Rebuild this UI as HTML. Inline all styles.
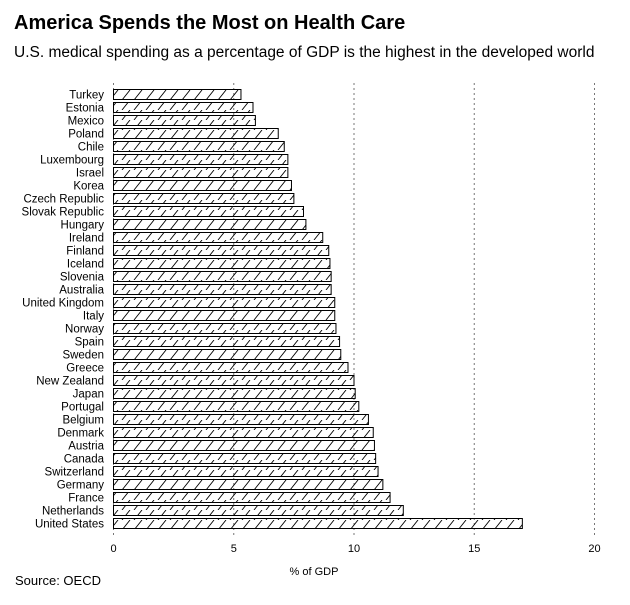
<!DOCTYPE html>
<html><head><meta charset="utf-8"><style>
body{margin:0;background:#fff;font-family:"Liberation Sans",Arial,sans-serif;}
svg text{font-family:"Liberation Sans",Arial,sans-serif;}
</style></head><body>
<svg id="chart" width="630" height="600" xmlns="http://www.w3.org/2000/svg">
<defs>
<pattern id="hatch" patternUnits="userSpaceOnUse" width="12" height="10">
<line x1="2" y1="10" x2="10" y2="0" stroke="#000" stroke-width="0.9"/>
</pattern>
</defs>
<text x="14" y="29" font-size="20" font-weight="bold">America Spends the Most on Health Care</text>
<text x="14" y="57" font-size="15.5">U.S. medical spending as a percentage of GDP is the highest in the developed world</text>
<g id="grid"></g>
<g id="bars"></g>
<g id="labels"></g>
<g id="ticks"></g>
<text x="314" y="575" font-size="11" text-anchor="middle">% of GDP</text>
<text x="15" y="585" font-size="13">Source: OECD</text>
</svg>
<script>
const countries=["Turkey","Estonia","Mexico","Poland","Chile","Luxembourg","Israel","Korea","Czech Republic","Slovak Republic","Hungary","Ireland","Finland","Iceland","Slovenia","Australia","United Kingdom","Italy","Norway","Spain","Sweden","Greece","New Zealand","Japan","Portugal","Belgium","Denmark","Austria","Canada","Switzerland","Germany","France","Netherlands","United States"];
const values=[5.3,5.8,5.9,6.85,7.1,7.25,7.25,7.4,7.5,7.9,8.0,8.7,8.95,9.0,9.05,9.05,9.2,9.2,9.25,9.4,9.45,9.75,10.0,10.05,10.2,10.6,10.8,10.85,10.9,11.0,11.2,11.5,12.05,17.0];
const tickValues=[0,5,10,15,20];
const NS="http://www.w3.org/2000/svg";
const x0=113.5,x1=594.5,xmax=20;
const xs=v=>x0+v/xmax*(x1-x0);
const rowTop=89.5,rowStep=13,barH=10;
const ys=i=>rowTop+i*rowStep;
function mk(tag,attrs,parent){const e=document.createElementNS(NS,tag);for(const k in attrs)e.setAttribute(k,attrs[k]);document.getElementById(parent).appendChild(e);return e;}
tickValues.forEach(t=>{
 const g=mk("line",{x1:xs(t),x2:xs(t),y1:83,y2:537,stroke:"#777","stroke-width":1,"stroke-dasharray":"2,3"},"grid");
 
 
 const tx=mk("text",{x:xs(t),y:552,"font-size":11,"text-anchor":"middle"},"ticks");
 tx.textContent=t;
 
 
});
countries.forEach((c,i)=>{
 const y=ys(i);
 const r=mk("rect",{x:xs(0),y:y,width:xs(values[i])-xs(0),height:barH,fill:"url(#hatch)",stroke:"#000","stroke-width":1},"bars");
 
 
 const t=mk("text",{x:104,y:y+barH-1,"font-size":11.5,"text-anchor":"end"},"labels");
 t.textContent=c;
 
 
});
</script>
</body></html>
